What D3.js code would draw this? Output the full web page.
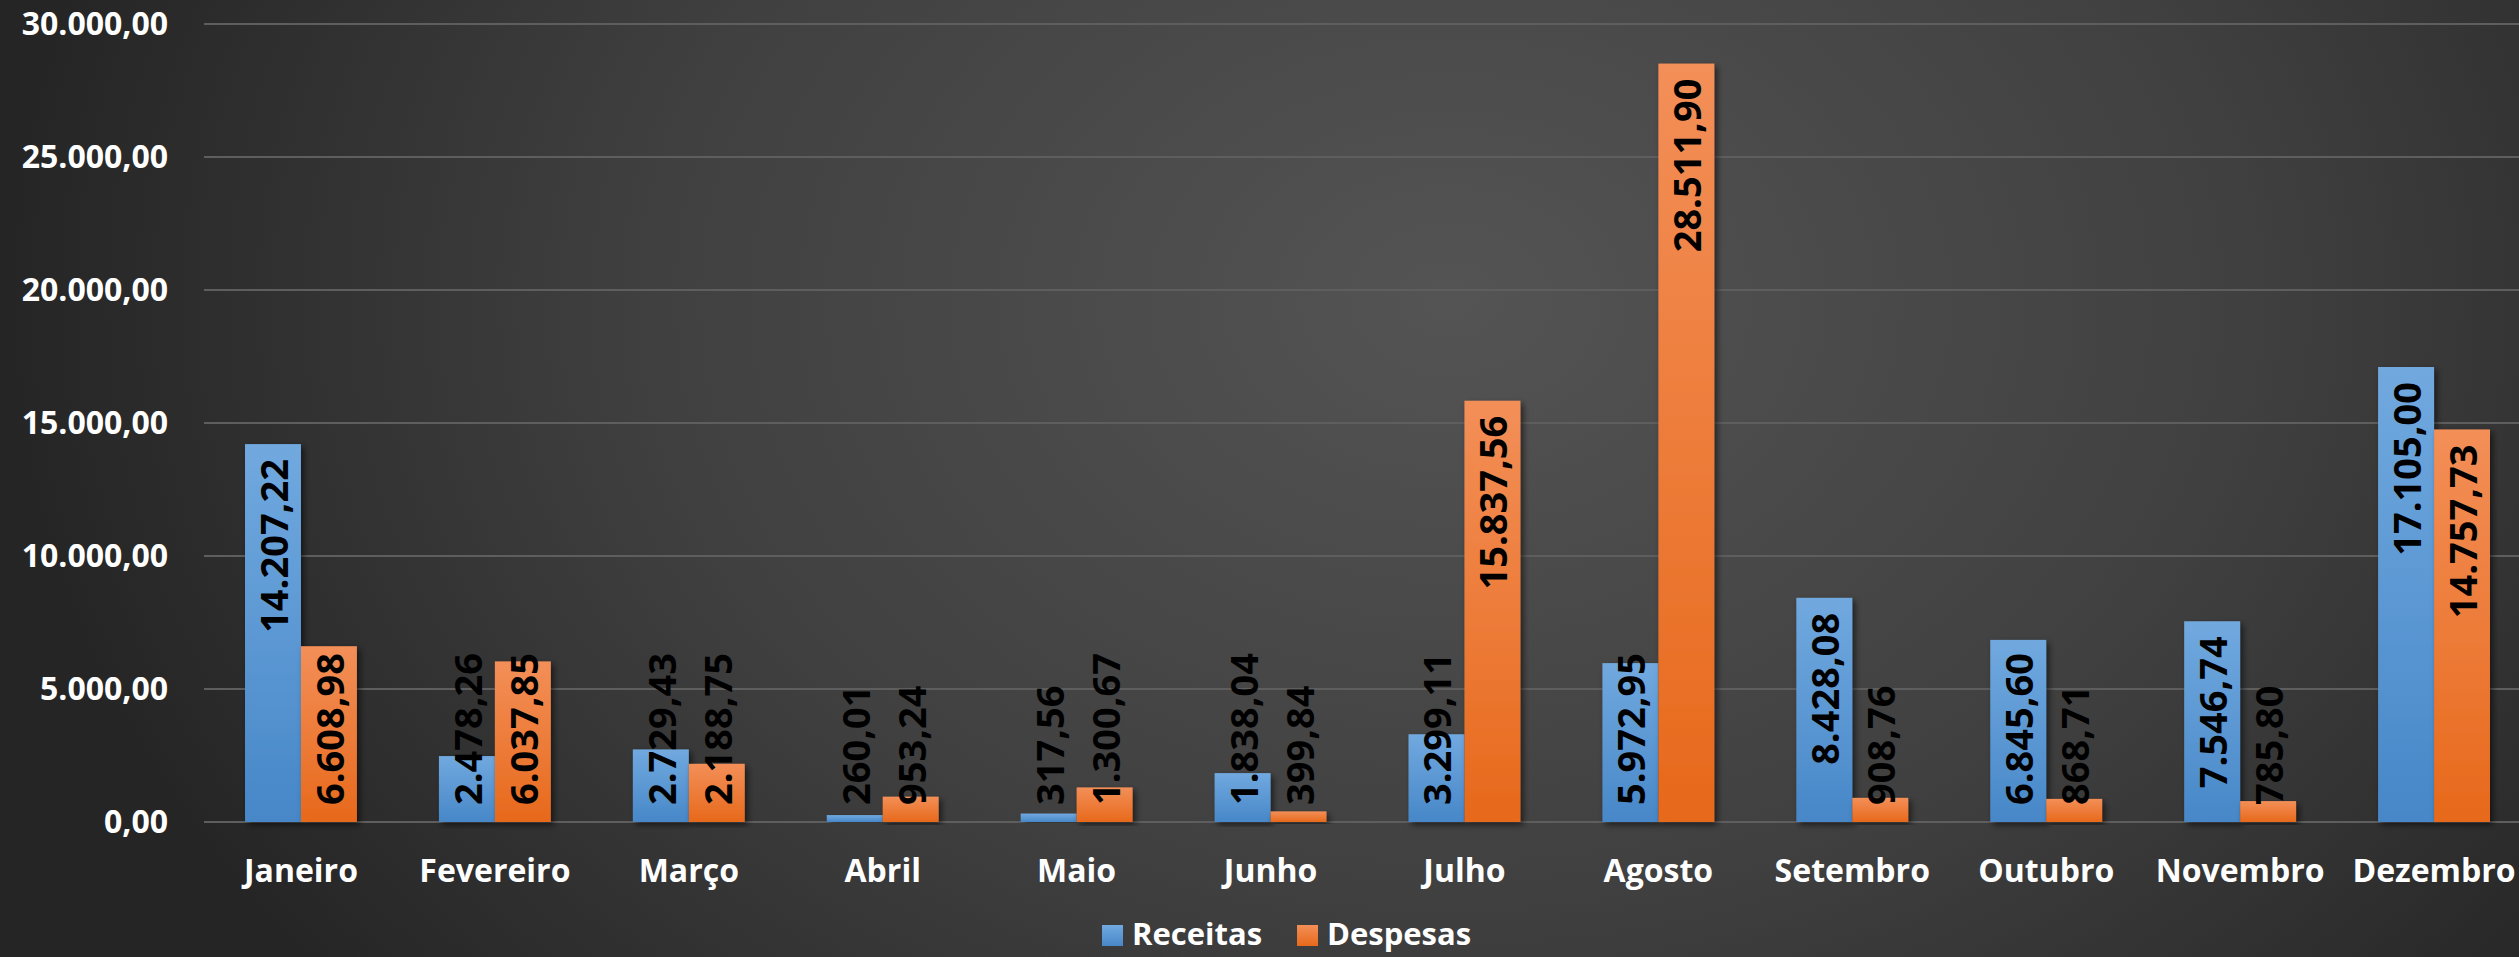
<!DOCTYPE html>
<html>
<head>
<meta charset="utf-8">
<script src="https://cdn.jsdelivr.net/npm/d3@7"></script>
<style>
  html, body { margin: 0; padding: 0; background: #2a2a2a; }
  svg { display: block; font-family: 'Open Sans', sans-serif; }
</style>
</head>
<body>
<svg id="chart" width="2519" height="957"></svg>
<script>
const months = ['Janeiro', 'Fevereiro', 'Março', 'Abril', 'Maio', 'Junho', 'Julho', 'Agosto', 'Setembro', 'Outubro', 'Novembro', 'Dezembro']
const seriesNames = ['Receitas', 'Despesas']
const receitas = [14207.22, 2478.26, 2729.43, 260.01, 317.56, 1838.04, 3299.11, 5972.95, 8428.08, 6845.60, 7546.74, 17105.00]
const despesas = [6608.98, 6037.85, 2188.75, 953.24, 1300.67, 399.84, 15837.56, 28511.90, 908.76, 868.71, 785.80, 14757.73]
const yTicks = [0, 5000, 10000, 15000, 20000, 25000, 30000]

const width = 2519
const height = 957
const plotLeft = 204
const plotRight = 2531
const plotTop = 24
const plotBottom = 822

const ptBR = d3.formatLocale({ decimal: ',', thousands: '.', grouping: [3], currency: ['R$', ''] })
const fmt = ptBR.format(',.2f')

const svg = d3.select('#chart')
const defs = svg.append('defs')

// background: dark radial gradient, lighter in the middle
const bg = defs.append('radialGradient')
    .attr('id', 'bg')
    .attr('gradientUnits', 'userSpaceOnUse')
    .attr('cx', 1450).attr('cy', 300).attr('r', 1450)
    .attr('gradientTransform', 'translate(1450,300) scale(1,0.75) translate(-1450,-300)')
bg.append('stop').attr('offset', '0%').attr('stop-color', '#545454')
bg.append('stop').attr('offset', '55%').attr('stop-color', '#404040')
bg.append('stop').attr('offset', '100%').attr('stop-color', '#252525')

const colors = {
    Receitas: ['#71a9df', '#4787c8'],
    Despesas: ['#f38f58', '#e7691b']
}
seriesNames.forEach(name => {
    const g = defs.append('linearGradient')
        .attr('id', 'grad-' + name)
        .attr('x1', 0).attr('y1', 0).attr('x2', 0).attr('y2', 1)
    g.append('stop').attr('offset', '0%').attr('stop-color', colors[name][0])
    g.append('stop').attr('offset', '100%').attr('stop-color', colors[name][1])
})

const shadow = defs.append('filter').attr('id', 'shadow')
    .attr('x', '-20%').attr('y', '-5%').attr('width', '150%').attr('height', '115%')
shadow.append('feDropShadow')
    .attr('dx', 3).attr('dy', 3).attr('stdDeviation', 3)
    .attr('flood-color', '#000').attr('flood-opacity', 0.55)

svg.append('rect').attr('width', width).attr('height', height).attr('fill', 'url(#bg)')

const x0 = d3.scaleBand()
    .domain(months)
    .range([plotLeft, plotRight])
    .paddingInner(0.423)
    .paddingOuter(0.2115)
const x1 = d3.scaleBand()
    .domain(seriesNames)
    .range([0, x0.bandwidth()])
const y = d3.scaleLinear().domain([0, 30000]).range([plotBottom, plotTop])

// gridlines
svg.append('g')
    .selectAll('line')
    .data(yTicks)
    .join('line')
    .attr('x1', plotLeft).attr('x2', width)
    .attr('y1', d => y(d)).attr('y2', d => y(d))
    .attr('stroke', '#5e5e5e')
    .attr('stroke-width', 2)

// y axis labels
const yAxis = svg.append('g')
    .attr('transform', `translate(${plotLeft - 36},0)`)
    .call(d3.axisLeft(y).tickValues(yTicks).tickFormat(fmt).tickSize(0).tickPadding(0))
yAxis.select('.domain').remove()
yAxis.selectAll('text')
    .attr('fill', '#fff')
    .style('font-size', '32px')
    .style('font-weight', 'bold')
    .style('font-family', "'Open Sans', sans-serif")

// x axis labels
const xAxis = svg.append('g')
    .attr('transform', `translate(0,${plotBottom})`)
    .call(d3.axisBottom(x0).tickSize(0).tickPadding(0))
xAxis.select('.domain').remove()
xAxis.selectAll('text')
    .attr('dy', 0)
    .attr('y', 60)
    .attr('fill', '#fff')
    .style('font-size', '32px')
    .style('font-weight', 'bold')
    .style('font-family', "'Open Sans', sans-serif")

const rows = months.map((m, i) => ({ month: m, values: [receitas[i], despesas[i]] }))

const groups = svg.append('g')
    .selectAll('g')
    .data(rows)
    .join('g')
    .attr('transform', d => `translate(${x0(d.month)},0)`)

groups.selectAll('rect')
    .data(d => seriesNames.map((s, j) => ({ series: s, value: d.values[j] })))
    .join('rect')
    .attr('x', d => x1(d.series))
    .attr('y', d => y(d.value))
    .attr('width', x1.bandwidth())
    .attr('height', d => y(0) - y(d.value))
    .attr('fill', d => `url(#grad-${d.series})`)
    .attr('filter', 'url(#shadow)')

// value labels, rotated, inside end of bar
groups.selectAll('text')
    .data(d => seriesNames.map((s, j) => ({ series: s, value: d.values[j] })))
    .join('text')
    .text(d => fmt(d.value))
    .attr('text-anchor', 'start')
    .attr('dominant-baseline', 'central')
    .attr('fill', '#000')
    .style('font-size', '38px')
    .style('font-weight', 'bold')
    .each(function (d) {
        const len = this.getComputedTextLength()
        const start = Math.min(y(d.value) + 15 + len, y(0) - 17)
        const cx = x1(d.series) + x1.bandwidth() / 2
        d3.select(this).attr('transform', `translate(${cx},${start}) rotate(-90)`)
    })

// legend
const legend = svg.append('g')
const legendX = [1102, 1297]
seriesNames.forEach((s, i) => {
    legend.append('rect')
        .attr('x', legendX[i]).attr('y', 925)
        .attr('width', 21).attr('height', 21)
        .attr('fill', `url(#grad-${s})`)
    legend.append('text')
        .attr('x', legendX[i] + 30).attr('y', 945)
        .attr('fill', '#fff')
        .style('font-size', '31px')
        .style('font-weight', 'bold')
        .text(s)
})
</script>
</body>
</html>
